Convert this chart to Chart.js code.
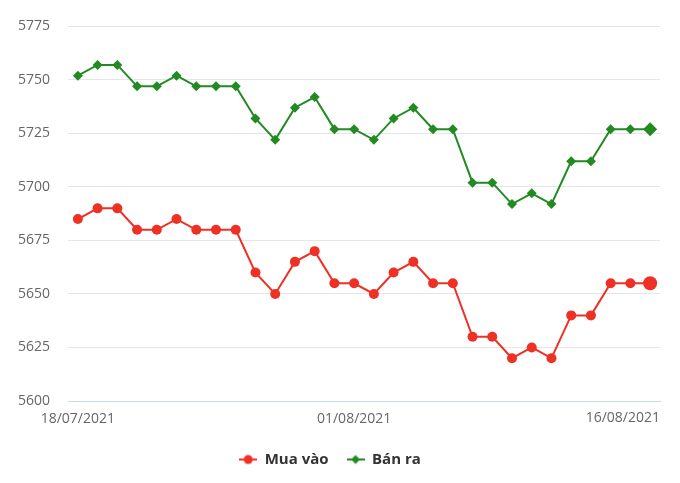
<!DOCTYPE html>
<html>
<head>
<meta charset="utf-8">
<script src="https://cdn.jsdelivr.net/npm/chart.js@4/dist/chart.umd.min.js"></script>
<style>
  html, body { margin: 0; padding: 0; background: #fff; }
  #wrap { width: 680px; height: 483px; }
</style>
</head>
<body>
<div id="wrap"><canvas id="chart" width="680" height="483"></canvas></div>
<script>
// ── Data ────────────────────────────────────────────────────

const dates = [
    '18/07/2021', '19/07/2021', '20/07/2021', '21/07/2021', '22/07/2021',
    '23/07/2021', '24/07/2021', '25/07/2021', '26/07/2021', '27/07/2021',
    '28/07/2021', '29/07/2021', '30/07/2021', '31/07/2021', '01/08/2021',
    '02/08/2021', '03/08/2021', '04/08/2021', '05/08/2021', '06/08/2021',
    '07/08/2021', '08/08/2021', '09/08/2021', '10/08/2021', '11/08/2021',
    '12/08/2021', '13/08/2021', '14/08/2021', '15/08/2021', '16/08/2021'
];
const shownDates = ['18/07/2021', '01/08/2021', '16/08/2021'];

const muaVao = [
    5685, 5690, 5690, 5680, 5680, 5685, 5680, 5680, 5680, 5660,
    5650, 5665, 5670, 5655, 5655, 5650, 5660, 5665, 5655, 5655,
    5630, 5630, 5620, 5625, 5620, 5640, 5640, 5655, 5655, 5655
];
const banRa = [
    5752, 5757, 5757, 5747, 5747, 5752, 5747, 5747, 5747, 5732,
    5722, 5737, 5742, 5727, 5727, 5722, 5732, 5737, 5727, 5727,
    5702, 5702, 5692, 5697, 5692, 5712, 5712, 5727, 5727, 5727
];

const yMin = 5600;
const yMax = 5775;
const yStep = 25;

// ── Styles ──────────────────────────────────────────────────

const RED = '#ee3124';
const GREEN = '#218a21';
const FONT = '"Open Sans", "DejaVu Sans", sans-serif';

// last point is highlighted a bit bigger
const radii = (n, normal, last) => Array.from({ length: n }, (_, i) => i === n - 1 ? last : normal);

// small legend symbol: line with a marker in the middle
function legendSymbol(color, shape) {
    const c = document.createElement('canvas');
    c.width = 18;
    c.height = 12;
    const ctx = c.getContext('2d');
    ctx.strokeStyle = color;
    ctx.fillStyle = color;
    ctx.lineWidth = 2;
    ctx.beginPath();
    ctx.moveTo(0, 6);
    ctx.lineTo(18, 6);
    ctx.stroke();
    ctx.beginPath();
    if (shape === 'circle') {
        ctx.arc(9, 6, 4.5, 0, Math.PI * 2);
    } else {
        ctx.moveTo(9, 1.5); ctx.lineTo(13.5, 6); ctx.lineTo(9, 10.5); ctx.lineTo(4.5, 6);
        ctx.closePath();
    }
    ctx.fill();
    return c;
}

// last x label sits flush with the plot's right edge
const lastLabelPlugin = {
    id: 'lastLabel',
    afterDraw(chart) {
        const { ctx, chartArea, scales } = chart;
        const x = scales.x;
        ctx.save();
        ctx.font = '14px ' + FONT;
        ctx.fillStyle = '#666666';
        ctx.textAlign = 'right';
        ctx.textBaseline = 'top';
        ctx.fillText(shownDates[2], chartArea.right, x.top + 10);
        ctx.restore();
    }
};

// ── Chart ───────────────────────────────────────────────────

new Chart(document.getElementById('chart'), {
    type: 'line',
    data: {
        labels: dates,
        datasets: [
            {
                label: 'Mua vào',
                data: muaVao,
                borderColor: RED,
                backgroundColor: RED,
                borderWidth: 2,
                pointStyle: 'circle',
                pointRadius: radii(muaVao.length, 5, 7),
                pointBorderWidth: 0,
                tension: 0
            },
            {
                label: 'Bán ra',
                data: banRa,
                borderColor: GREEN,
                backgroundColor: GREEN,
                borderWidth: 2,
                pointStyle: 'rectRot',
                pointRadius: radii(banRa.length, 5, 7),
                pointBorderWidth: 0,
                tension: 0
            }
        ]
    },
    options: {
        responsive: false,
        animation: false,
        layout: { padding: { top: 24, right: 20, left: 0, bottom: 6 } },
        plugins: {
            tooltip: { enabled: false },
            legend: {
                position: 'bottom',
                labels: {
                    usePointStyle: true,
                    pointStyleWidth: 18,
                    padding: 18,
                    color: '#333333',
                    font: { family: FONT, size: 15, weight: 'bold' },
                    generateLabels(chart) {
                        return chart.data.datasets.map((ds, i) => ({
                            text: ds.label,
                            fontColor: '#333333',
                            pointStyle: legendSymbol(ds.borderColor, i === 0 ? 'circle' : 'diamond'),
                            datasetIndex: i,
                            hidden: false,
                            lineWidth: 0
                        }));
                    }
                }
            }
        },
        scales: {
            x: {
                offset: true,
                grid: { display: false, drawTicks: false },
                border: { display: true, color: '#ccd6eb', width: 1 },
                afterFit(scale) { scale.height = 33; },
                ticks: {
                    autoSkip: false,
                    maxRotation: 0,
                    padding: 10,
                    color: '#666666',
                    font: { family: FONT, size: 14 },
                    callback(value, index) {
                        const lbl = dates[index];
                        return (lbl === shownDates[0] || lbl === shownDates[1]) ? lbl : '';
                    }
                }
            },
            y: {
                min: yMin,
                max: yMax,
                grid: {
                    drawTicks: false,
                    color: (c) => c.tick && c.tick.value === yMin ? '#ccd6eb' : '#e6e6e6'
                },
                border: { display: false },
                afterFit(scale) { scale.width = 68; },
                ticks: {
                    stepSize: yStep,
                    padding: 18,
                    color: '#666666',
                    font: { family: FONT, size: 14 },
                    callback: (v) => String(v)
                }
            }
        }
    },
    plugins: [lastLabelPlugin]
});
</script>
</body>
</html>
